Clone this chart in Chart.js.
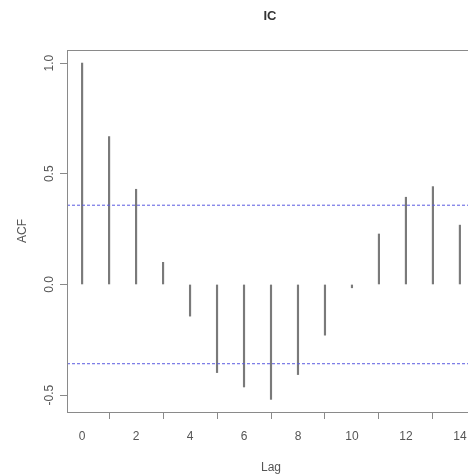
<!DOCTYPE html>
<html>
<head>
<meta charset="utf-8">
<script src="https://cdn.jsdelivr.net/npm/chart.js@4.4.1/dist/chart.umd.min.js"></script>
<style>
  html, body { margin: 0; padding: 0; background: #fff; overflow: hidden; }
  #wrap { width: 540px; height: 475px; }
</style>
</head>
<body>
<div id="wrap"><canvas id="acf_canvas" width="540" height="475"></canvas></div>
<script>
// data
var lags = [0, 1, 2, 3, 4, 5, 6, 7, 8, 9, 10, 11, 12, 13, 14];
var acfValues = [1.0, 0.668, 0.43, 0.10, -0.143, -0.398, -0.463, -0.519, -0.407, -0.229, -0.015, 0.228, 0.394, 0.442, 0.268];
var confLimit = 0.358; // blue dashed bounds, +/-
var xTicks = [0, 2, 4, 6, 8, 10, 12, 14];
var yTicks = [-0.5, 0, 0.5, 1.0];
var yTickLabels = ["-0.5", "0.0", "0.5", "1.0"];
var xRange = [-0.56, 14.56];
var yRange = [-0.576, 1.059];

var labelColor = "#555";
var boxColor = "#8a8a8a";

var stickData = [];
for (var i = 0; i < lags.length; i++)
    stickData.push({ x: lags[i], y: acfValues[i] });

//box round the plot + rotated y tick labels, like R
var rStylePlugin = {
    id: "rStyle",
    afterDraw: function(chart) {
        var ctx = chart.ctx;
        var a = chart.chartArea;
        ctx.save();
        ctx.strokeStyle = boxColor;
        ctx.lineWidth = 1;
        ctx.strokeRect(Math.round(a.left) + 0.5, Math.round(a.top) + 0.5,
            Math.round(a.right - a.left), Math.round(a.bottom - a.top));

        var yScale = chart.scales.y;
        ctx.fillStyle = labelColor;
        ctx.font = "12px 'Liberation Sans', Arial, sans-serif";
        ctx.textAlign = "center";
        ctx.textBaseline = "middle";
        for (var i = 0; i < yTicks.length; i++) {
            var py = yScale.getPixelForValue(yTicks[i]);
            ctx.save();
            ctx.translate(50, py);
            ctx.rotate(-Math.PI / 2);
            ctx.fillText(yTickLabels[i], 0, 0);
            ctx.restore();
        }
        ctx.restore();
    }
};

var ctx = document.getElementById("acf_canvas").getContext("2d");
var acfChart = new Chart(ctx, {
    type: "bar",
    data: {
        datasets: [{
            type: "bar",
            data: stickData,
            backgroundColor: "#7a7a7a",
            borderWidth: 0,
            barThickness: 1.5,
            order: 2
        }, {
            type: "line",
            data: [{ x: xRange[0], y: confLimit }, { x: xRange[1], y: confLimit }],
            borderColor: "#5a5ae0",
            borderWidth: 1,
            borderDash: [3, 2],
            pointRadius: 0,
            order: 1
        }, {
            type: "line",
            data: [{ x: xRange[0], y: -confLimit }, { x: xRange[1], y: -confLimit }],
            borderColor: "#5a5ae0",
            borderWidth: 1,
            borderDash: [3, 2],
            pointRadius: 0,
            order: 1
        }]
    },
    options: {
        responsive: false,
        animation: false,
        layout: { padding: 0 },
        plugins: {
            legend: { display: false },
            tooltip: { enabled: false },
            title: {
                display: true,
                text: "IC",
                color: "#333",
                font: { family: "'Liberation Sans', Arial, sans-serif", size: 13, weight: "bold" },
                padding: { top: 9, bottom: 25.4 }
            }
        },
        scales: {
            x: {
                type: "linear",
                min: xRange[0],
                max: xRange[1],
                offset: false,
                afterBuildTicks: function(scale) {
                    scale.ticks = xTicks.map(function(v) { return { value: v }; });
                },
                afterFit: function(scale) { scale.height = 63; },
                ticks: {
                    color: labelColor,
                    font: { family: "'Liberation Sans', Arial, sans-serif", size: 12 },
                    padding: 10,
                    maxRotation: 0,
                    autoSkip: false
                },
                grid: {
                    display: true,
                    drawOnChartArea: false,
                    drawTicks: true,
                    tickLength: 7,
                    color: boxColor
                },
                border: { display: false },
                title: {
                    display: true,
                    text: "Lag",
                    color: labelColor,
                    font: { family: "'Liberation Sans', Arial, sans-serif", size: 12 },
                    padding: { top: 7, bottom: 0 }
                }
            },
            y: {
                type: "linear",
                min: yRange[0],
                max: yRange[1],
                afterBuildTicks: function(scale) {
                    scale.ticks = yTicks.map(function(v) { return { value: v }; });
                },
                afterFit: function(scale) { scale.width = 67; },
                ticks: { display: false },
                grid: {
                    display: true,
                    drawOnChartArea: false,
                    drawTicks: true,
                    tickLength: 7,
                    color: boxColor
                },
                border: { display: false },
                title: {
                    display: true,
                    text: "ACF",
                    color: labelColor,
                    font: { family: "'Liberation Sans', Arial, sans-serif", size: 12 },
                    padding: { top: 15, bottom: 0 }
                }
            },
            // empty right margin so the title centres over the plot, as in R
            yRight: {
                type: "linear",
                position: "right",
                display: true,
                afterFit: function(scale) { scale.width = 65; },
                ticks: { display: false },
                grid: { display: false },
                border: { display: false }
            }
        }
    },
    plugins: [rStylePlugin]
});
</script>
</body>
</html>
